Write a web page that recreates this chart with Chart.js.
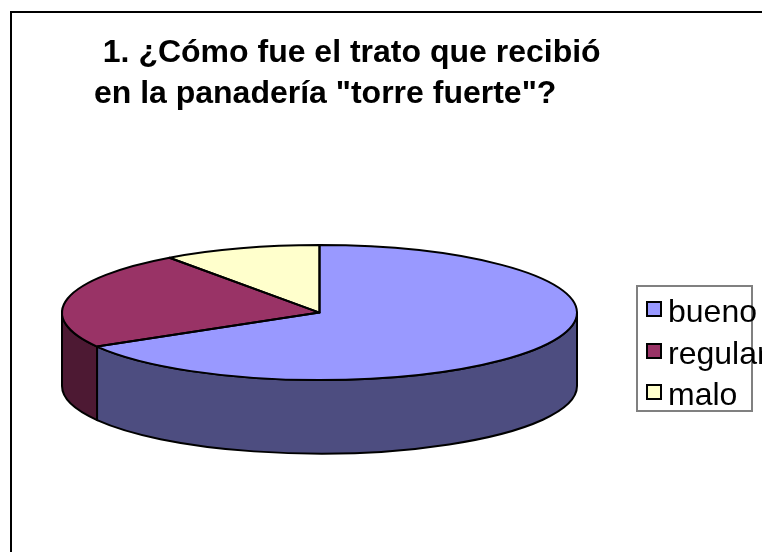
<!DOCTYPE html>
<html lang="es">
<head>
<meta charset="utf-8">
<title>Trato en la panadería</title>
<script src="https://cdn.jsdelivr.net/npm/chart.js@4"></script>
<style>
    html, body { margin: 0; padding: 0; background: #fff; overflow: hidden; }
    #wrap { position: relative; width: 762px; height: 552px; overflow: hidden; }
    #frame {
        position: absolute; left: 10px; top: 11px; width: 770px; height: 560px;
        border: 2px solid #000;
    }
    canvas { position: absolute; left: 0; top: 0; }
    #legend {
        position: absolute; left: 636px; top: 285px; width: 113px; height: 123px;
        border: 2px solid #808080;
        font: 32px "Liberation Sans", Arial, sans-serif; color: #000;
    }
    #legend div { position: absolute; left: 30px; line-height: 36px; white-space: nowrap; }
    #legend span {
        position: absolute; left: -22px; top: 8px; width: 12px; height: 12px;
        border: 2px solid #000;
    }
</style>
</head>
<body>
<div id="wrap">
    <div id="frame"></div>
    <canvas id="grafico" width="762" height="552"></canvas>
    <div id="legend"></div>
</div>
<script>
const categorias = ["bueno", "regular", "malo"];
const valores = [66.6, 23.5, 9.9];
const colores = ["#9999FF", "#993366", "#FFFFCC"];
const coloresLado = ["#4D4D80", "#4D1933", "#80804D"];
const titulo = [
    "           1. ¿Cómo fue el trato que recibió",
    "          en la panadería \"torre fuerte\"?",
];

const RADIO = 257.5;
const APLASTE = 67.5 / 257.5;
const ALTO_LADO = 73.5;

// paredes del frente: solo la mitad de abajo (angulos 0 a PI) se ve
function dibujarLados(ctx, arcos) {
    arcos.forEach(function (arco, i) {
        const ini = Math.max(arco.startAngle, 0);
        const fin = Math.min(arco.endAngle, Math.PI);
        if (fin <= ini) return;

        const ry = arco.outerRadius * APLASTE;
        ctx.beginPath();
        ctx.ellipse(arco.x, arco.y, arco.outerRadius, ry, 0, ini, fin);
        ctx.ellipse(arco.x, arco.y + ALTO_LADO, arco.outerRadius, ry, 0, fin, ini, true);
        ctx.closePath();
        ctx.fillStyle = coloresLado[i];
        ctx.fill();
        ctx.stroke();
    });
}

// contorno de cada sector, con grosor parejo fuera de la escala
function dibujarContornos(ctx, arcos) {
    arcos.forEach(function (arco) {
        const ry = arco.outerRadius * APLASTE;
        ctx.beginPath();
        ctx.moveTo(arco.x, arco.y);
        ctx.ellipse(arco.x, arco.y, arco.outerRadius, ry, 0, arco.startAngle, arco.endAngle);
        ctx.closePath();
        ctx.stroke();
    });
}

const torta3d = {
    id: "torta3d",
    beforeDatasetDraw: function (chart, args) {
        const ctx = chart.ctx;
        const arcos = args.meta.data;
        ctx.save();
        ctx.strokeStyle = "#000";
        ctx.lineWidth = 2;
        ctx.lineJoin = "round";
        dibujarLados(ctx, arcos);
        ctx.restore();

        // la tapa se dibuja como pie normal, aplastada en vertical
        ctx.save();
        ctx.translate(arcos[0].x, arcos[0].y);
        ctx.scale(1, APLASTE);
        ctx.translate(-arcos[0].x, -arcos[0].y);
    },
    afterDatasetDraw: function (chart, args) {
        const ctx = chart.ctx;
        ctx.restore();
        ctx.save();
        ctx.strokeStyle = "#000";
        ctx.lineWidth = 2;
        ctx.lineJoin = "round";
        dibujarContornos(ctx, args.meta.data);
        ctx.restore();
    },
};

new Chart(document.getElementById("grafico"), {
    type: "pie",
    data: {
        labels: categorias,
        datasets: [
            {
                data: valores,
                backgroundColor: colores,
                borderWidth: 0,
                radius: RADIO,
                clip: false,
            },
        ],
    },
    options: {
        responsive: false,
        animation: false,
        layout: {
            padding: { left: 5, right: 128, top: 32, bottom: 42 },
        },
        plugins: {
            legend: { display: false },
            tooltip: { enabled: false },
            title: {
                display: true,
                text: titulo,
                align: "start",
                color: "#000",
                font: { family: "'Liberation Sans', Arial, sans-serif", size: 32, weight: "bold", lineHeight: 1.3 },
                padding: { top: 0, bottom: 0 },
            },
        },
    },
    plugins: [torta3d],
});

// leyenda a la derecha
const leyenda = document.getElementById("legend");
categorias.forEach(function (nombre, i) {
    const fila = document.createElement("div");
    fila.style.top = 6 + i * 41.5 + "px";
    fila.textContent = nombre;
    const caja = document.createElement("span");
    caja.style.background = colores[i];
    fila.appendChild(caja);
    leyenda.appendChild(fila);
});
</script>
</body>
</html>
